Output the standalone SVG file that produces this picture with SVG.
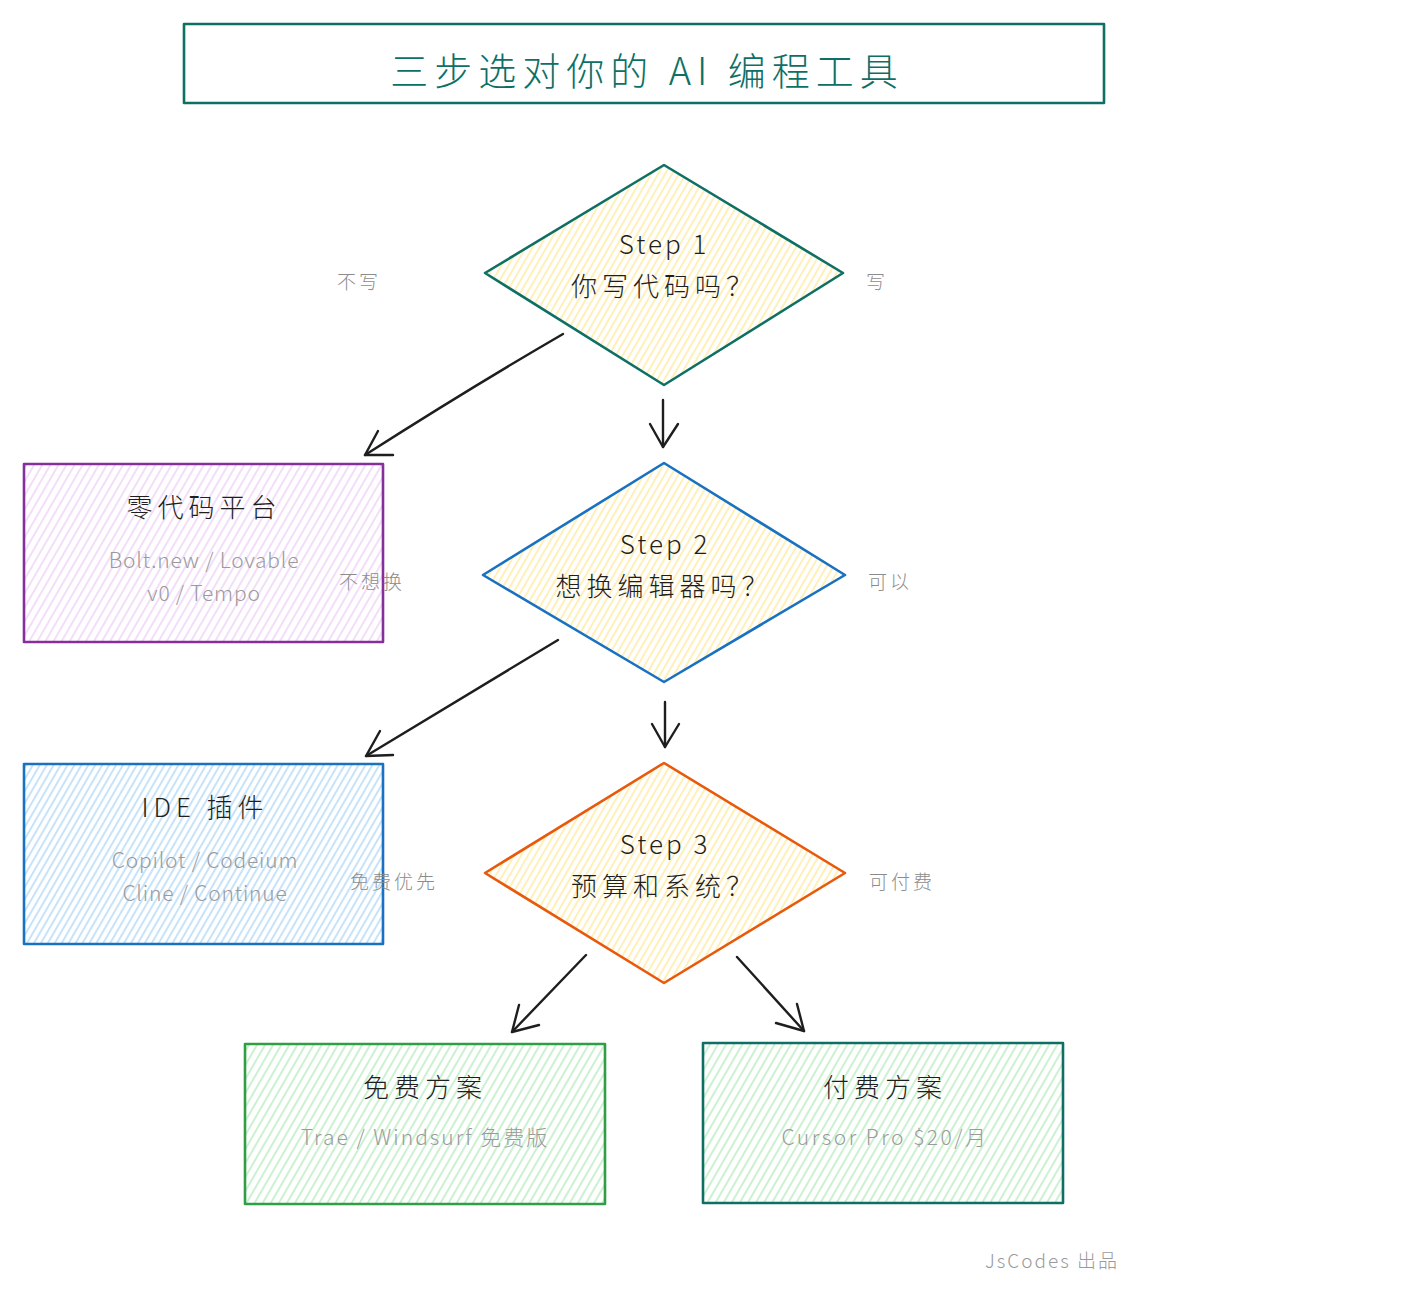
<svg xmlns="http://www.w3.org/2000/svg" width="1408" height="1300" viewBox="0 0 1408 1300">
<defs>
<pattern id="hY" width="6" height="6" patternUnits="userSpaceOnUse" patternTransform="rotate(30)"><line x1="3" y1="0" x2="3" y2="6" stroke="#ffe58a" stroke-width="1.2"/></pattern>
<pattern id="hP" width="7" height="7" patternUnits="userSpaceOnUse" patternTransform="rotate(30)"><line x1="3" y1="0" x2="3" y2="7" stroke="#e9c2f5" stroke-width="1.1"/></pattern>
<pattern id="hB" width="6" height="6" patternUnits="userSpaceOnUse" patternTransform="rotate(30)"><line x1="3" y1="0" x2="3" y2="6" stroke="#9fd0f7" stroke-width="1.2"/></pattern>
<pattern id="hG" width="7" height="7" patternUnits="userSpaceOnUse" patternTransform="rotate(30)"><line x1="3" y1="0" x2="3" y2="7" stroke="#a8e8b2" stroke-width="1.2"/></pattern>
<style>
.t{font-family:"Noto Sans CJK SC","Noto Sans",sans-serif;font-weight:300;text-anchor:middle;dominant-baseline:central}
.main{font-size:26px;fill:#1e1e1e;letter-spacing:5px}
.lat{letter-spacing:3px}
.sub{font-size:21px;fill:#9a9a9a;letter-spacing:2px}
.subl{letter-spacing:0.8px}
.lbl{font-size:19px;fill:#8c8c8c;letter-spacing:3px}
.arr{fill:none;stroke:#1e1e1e;stroke-width:2.4;stroke-linecap:round;stroke-linejoin:round}
.sh{stroke-width:2.6;stroke-linejoin:round}
</style>
</defs>
<rect width="1408" height="1300" fill="#ffffff"/>

<g id="title">
<rect x="184" y="24" width="920" height="79" fill="none" stroke="#0e7065" class="sh"/>
<text class="t" x="647" y="68" style="font-size:38px;fill:#0e7065;letter-spacing:6px">三步选对你的 AI 编程工具</text>
</g>

<g id="step1">
<polygon points="664,165 843,273 664,385 485,273" fill="url(#hY)" stroke="#0e7065" class="sh"/>
<text class="t main lat" x="664" y="242">Step 1</text>
<text class="t main" x="664" y="284">你写代码吗？</text>
</g>

<g id="step2">
<polygon points="664,463 845,575 664,682 483,575" fill="url(#hY)" stroke="#1971c2" class="sh"/>
<text class="t main lat" x="665" y="542">Step 2</text>
<text class="t main" x="664" y="584">想换编辑器吗？</text>
</g>

<g id="step3">
<polygon points="664,763 845,873 664,983 485,873" fill="url(#hY)" stroke="#e8590c" class="sh"/>
<text class="t main lat" x="665" y="842">Step 3</text>
<text class="t main" x="664" y="884">预算和系统？</text>
</g>

<g id="nocode">
<rect x="24" y="464" width="359" height="178" fill="url(#hP)" stroke="#862e9c" class="sh"/>
<text class="t main" x="204" y="505">零代码平台</text>
<text class="t sub subl" x="204" y="559">Bolt.new / Lovable</text>
<text class="t sub subl" x="204" y="592">v0 / Tempo</text>
</g>

<g id="ide">
<rect x="24" y="764" width="359" height="180" fill="url(#hB)" stroke="#1971c2" class="sh"/>
<text class="t main" x="205" y="805">IDE 插件</text>
<text class="t sub subl" x="205" y="859">Copilot / Codeium</text>
<text class="t sub subl" x="205" y="892">Cline / Continue</text>
</g>

<g id="free">
<rect x="245" y="1044" width="360" height="160" fill="url(#hG)" stroke="#2f9e44" class="sh"/>
<text class="t main" x="425" y="1085">免费方案</text>
<text class="t sub" x="425" y="1136">Trae / Windsurf 免费版</text>
</g>

<g id="paid">
<rect x="703" y="1043" width="360" height="160" fill="url(#hG)" stroke="#0e7065" class="sh"/>
<text class="t main" x="885" y="1085">付费方案</text>
<text class="t sub" x="885" y="1136" style="letter-spacing:2.5px">Cursor Pro $20/月</text>
</g>

<g id="connectors">
<path class="arr" d="M563,334 Q470,388 365,455"/>
<path class="arr" d="M378,431 L365,455 L393,455"/>
<path class="arr" d="M663,400 L663,447"/>
<path class="arr" d="M650,424 L663,447 L678,424"/>
<path class="arr" d="M558,640 L366,756"/>
<path class="arr" d="M380,731 L366,756 L393,755"/>
<path class="arr" d="M665,702 L665,747"/>
<path class="arr" d="M652,724 L665,747 L679,724"/>
<path class="arr" d="M586,955 L512,1032"/>
<path class="arr" d="M519,1005 L512,1032 L539,1025"/>
<path class="arr" d="M737,957 L804,1031"/>
<path class="arr" d="M797,1004 L804,1031 L776,1023"/>
</g>

<g id="labels">
<text class="t lbl" x="359" y="280">不写</text>
<text class="t lbl" x="877" y="280">写</text>
<text class="t lbl" x="372" y="580">不想换</text>
<text class="t lbl" x="890" y="580">可以</text>
<text class="t lbl" x="394" y="880">免费优先</text>
<text class="t lbl" x="902" y="880">可付费</text>
</g>

<g id="footer">
<text class="t" x="1052" y="1259" style="font-size:19px;fill:#9a9a9a;letter-spacing:2px">JsCodes 出品</text>
</g>
</svg>
